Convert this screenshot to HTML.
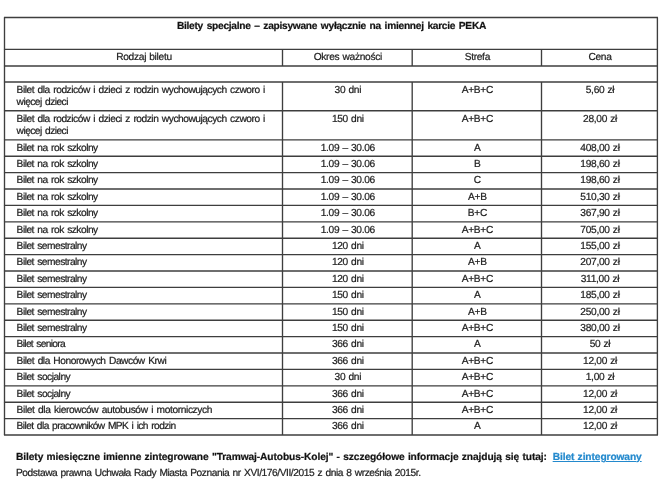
<!DOCTYPE html>
<html lang="pl"><head><meta charset="utf-8"><title>Bilety specjalne</title>
<style>
html,body{margin:0;padding:0;background:#fff;}
body{width:664px;height:492px;overflow:hidden;position:relative;font-family:"Liberation Sans",sans-serif;font-size:10.2px;color:#1e1e1e;-webkit-text-stroke:0.22px #1e1e1e;letter-spacing:-0.3px;word-spacing:1.1px;text-rendering:geometricPrecision;}
svg.grid{position:absolute;left:0;top:0;}
table,p{will-change:transform;}
table{position:absolute;left:4.5px;top:17.5px;width:653px;border-collapse:collapse;table-layout:fixed;}
td{border:0;padding:2.45px 0 0 0;vertical-align:top;text-align:center;line-height:12px;overflow:hidden;white-space:nowrap;}
td{word-spacing:0.6px}
td.l{text-align:left;padding-left:11.6px;word-spacing:1.1px}
tr.h td{font-weight:bold;color:#111;letter-spacing:-0.275px;word-spacing:1.1px;padding-top:3.2px}
p{position:absolute;margin:0;left:15.6px;white-space:nowrap;line-height:13px;letter-spacing:-0.43px;word-spacing:0.9px;}
p.b{font-weight:bold;color:#111;letter-spacing:-0.09px;word-spacing:0.6px}
a{color:#2389cd;-webkit-text-stroke-color:#2389cd;}
</style></head><body>
<svg class="grid" width="664" height="492" viewBox="0 0 664 492" stroke="#3e3e3e" stroke-width="1.35" fill="none">
<line x1="3.95" y1="17.50" x2="657.95" y2="17.50"/>
<line x1="3.95" y1="49.30" x2="657.95" y2="49.30"/>
<line x1="3.95" y1="66.00" x2="657.95" y2="66.00"/>
<line x1="3.95" y1="82.00" x2="657.95" y2="82.00"/>
<line x1="3.95" y1="110.70" x2="657.95" y2="110.70"/>
<line x1="3.95" y1="139.80" x2="657.95" y2="139.80"/>
<line x1="3.95" y1="156.20" x2="657.95" y2="156.20"/>
<line x1="3.95" y1="172.60" x2="657.95" y2="172.60"/>
<line x1="3.95" y1="189.00" x2="657.95" y2="189.00"/>
<line x1="3.95" y1="205.40" x2="657.95" y2="205.40"/>
<line x1="3.95" y1="221.80" x2="657.95" y2="221.80"/>
<line x1="3.95" y1="238.20" x2="657.95" y2="238.20"/>
<line x1="3.95" y1="254.60" x2="657.95" y2="254.60"/>
<line x1="3.95" y1="271.00" x2="657.95" y2="271.00"/>
<line x1="3.95" y1="287.40" x2="657.95" y2="287.40"/>
<line x1="3.95" y1="303.80" x2="657.95" y2="303.80"/>
<line x1="3.95" y1="320.20" x2="657.95" y2="320.20"/>
<line x1="3.95" y1="336.60" x2="657.95" y2="336.60"/>
<line x1="3.95" y1="353.00" x2="657.95" y2="353.00"/>
<line x1="3.95" y1="369.40" x2="657.95" y2="369.40"/>
<line x1="3.95" y1="385.80" x2="657.95" y2="385.80"/>
<line x1="3.95" y1="402.20" x2="657.95" y2="402.20"/>
<line x1="3.95" y1="418.60" x2="657.95" y2="418.60"/>
<line x1="3.95" y1="435.00" x2="657.95" y2="435.00"/>
<line x1="4.50" y1="17.50" x2="4.50" y2="435.00"/>
<line x1="657.40" y1="17.50" x2="657.40" y2="435.00"/>
<line x1="282.50" y1="49.30" x2="282.50" y2="66.00"/>
<line x1="282.50" y1="82.00" x2="282.50" y2="435.00"/>
<line x1="412.20" y1="49.30" x2="412.20" y2="66.00"/>
<line x1="412.20" y1="82.00" x2="412.20" y2="435.00"/>
<line x1="541.50" y1="49.30" x2="541.50" y2="66.00"/>
<line x1="541.50" y1="82.00" x2="541.50" y2="435.00"/>
</svg>
<table>
<colgroup><col style="width:278px"><col style="width:129.7px"><col style="width:129.3px"><col style="width:116px"></colgroup>
<tr class="h" style="height:31.80px"><td colspan="4">Bilety specjalne – zapisywane wyłącznie na imiennej karcie PEKA</td></tr>
<tr class="c" style="height:16.70px"><td>Rodzaj biletu</td><td>Okres ważności</td><td>Strefa</td><td>Cena</td></tr>
<tr class="e" style="height:16.00px"><td colspan="4"></td></tr>
<tr style="height:28.70px"><td class="l" style="letter-spacing:-0.460px">Bilet dla rodziców i dzieci z rodzin wychowujących czworo i<br><span style="letter-spacing:-0.54px">więcej dzieci</span></td><td>30 dni</td><td>A+B+C</td><td>5,60 zł</td></tr>
<tr style="height:29.10px"><td class="l" style="letter-spacing:-0.460px">Bilet dla rodziców i dzieci z rodzin wychowujących czworo i<br><span style="letter-spacing:-0.54px">więcej dzieci</span></td><td>150 dni</td><td>A+B+C</td><td>28,00 zł</td></tr>
<tr style="height:16.40px"><td class="l" style="letter-spacing:-0.500px">Bilet na rok szkolny</td><td>1.09 – 30.06</td><td>A</td><td>408,00 zł</td></tr>
<tr style="height:16.40px"><td class="l" style="letter-spacing:-0.500px">Bilet na rok szkolny</td><td>1.09 – 30.06</td><td>B</td><td>198,60 zł</td></tr>
<tr style="height:16.40px"><td class="l" style="letter-spacing:-0.500px">Bilet na rok szkolny</td><td>1.09 – 30.06</td><td>C</td><td>198,60 zł</td></tr>
<tr style="height:16.40px"><td class="l" style="letter-spacing:-0.500px">Bilet na rok szkolny</td><td>1.09 – 30.06</td><td>A+B</td><td>510,30 zł</td></tr>
<tr style="height:16.40px"><td class="l" style="letter-spacing:-0.500px">Bilet na rok szkolny</td><td>1.09 – 30.06</td><td>B+C</td><td>367,90 zł</td></tr>
<tr style="height:16.40px"><td class="l" style="letter-spacing:-0.500px">Bilet na rok szkolny</td><td>1.09 – 30.06</td><td>A+B+C</td><td>705,00 zł</td></tr>
<tr style="height:16.40px"><td class="l" style="letter-spacing:-0.510px">Bilet semestralny</td><td>120 dni</td><td>A</td><td>155,00 zł</td></tr>
<tr style="height:16.40px"><td class="l" style="letter-spacing:-0.510px">Bilet semestralny</td><td>120 dni</td><td>A+B</td><td>207,00 zł</td></tr>
<tr style="height:16.40px"><td class="l" style="letter-spacing:-0.510px">Bilet semestralny</td><td>120 dni</td><td>A+B+C</td><td>311,00 zł</td></tr>
<tr style="height:16.40px"><td class="l" style="letter-spacing:-0.510px">Bilet semestralny</td><td>150 dni</td><td>A</td><td>185,00 zł</td></tr>
<tr style="height:16.40px"><td class="l" style="letter-spacing:-0.510px">Bilet semestralny</td><td>150 dni</td><td>A+B</td><td>250,00 zł</td></tr>
<tr style="height:16.40px"><td class="l" style="letter-spacing:-0.510px">Bilet semestralny</td><td>150 dni</td><td>A+B+C</td><td>380,00 zł</td></tr>
<tr style="height:16.40px"><td class="l" style="letter-spacing:-0.680px">Bilet seniora</td><td>366 dni</td><td>A</td><td>50 zł</td></tr>
<tr style="height:16.40px"><td class="l" style="letter-spacing:-0.450px">Bilet dla Honorowych Dawców Krwi</td><td>366 dni</td><td>A+B+C</td><td>12,00 zł</td></tr>
<tr style="height:16.40px"><td class="l" style="letter-spacing:-0.500px">Bilet socjalny</td><td>30 dni</td><td>A+B+C</td><td>1,00 zł</td></tr>
<tr style="height:16.40px"><td class="l" style="letter-spacing:-0.500px">Bilet socjalny</td><td>366 dni</td><td>A+B+C</td><td>12,00 zł</td></tr>
<tr style="height:16.40px"><td class="l" style="letter-spacing:-0.380px">Bilet dla kierowców autobusów i motorniczych</td><td>366 dni</td><td>A+B+C</td><td>12,00 zł</td></tr>
<tr style="height:16.40px"><td class="l" style="letter-spacing:-0.580px">Bilet dla pracowników MPK i ich rodzin</td><td>366 dni</td><td>A</td><td>12,00 zł</td></tr>
</table>
<p class="b" style="top:451px">Bilety miesięczne imienne zintegrowane "Tramwaj-Autobus-Kolej" - szczegółowe informacje znajdują się tutaj: <a href="#" style="margin-left:2.5px">Bilet zintegrowany</a></p>
<p style="top:467px">Podstawa prawna Uchwała Rady Miasta Poznania nr XVI/176/VII/2015 z dnia 8 września 2015r.</p>
</body></html>
